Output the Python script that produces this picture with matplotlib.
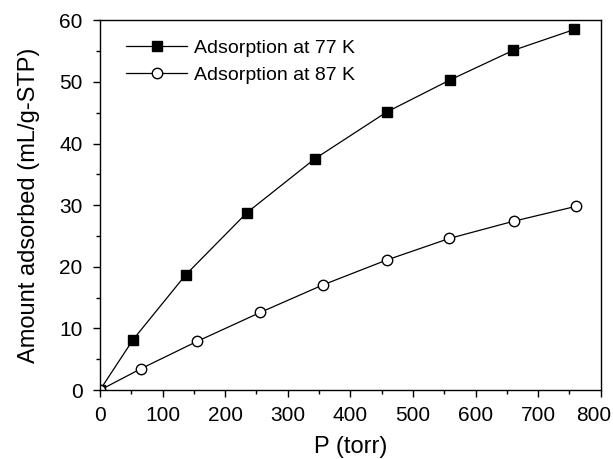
import matplotlib
matplotlib.use("Agg")
import matplotlib.pyplot as plt
from matplotlib.ticker import MultipleLocator
from matplotlib.transforms import ScaledTranslation

plt.rcParams['font.family'] = ['Liberation Sans', 'DejaVu Sans']

p77 = [0, 53, 137, 235, 343, 458, 559, 660, 758]
a77 = [0, 8.2, 18.7, 28.8, 37.5, 45.1, 50.3, 55.1, 58.5]
p87 = [0, 66, 155, 256, 357, 458, 558, 661, 760]
a87 = [0, 3.5, 7.9, 12.6, 17.1, 21.1, 24.6, 27.4, 29.8]
xticks = [0, 100, 200, 300, 400, 500, 600, 700, 800]
yticks = [0, 10, 20, 30, 40, 50, 60]

fig = plt.figure(figsize=(6.13, 4.59), dpi=100)
ax = fig.add_axes([0.163, 0.150, 0.817, 0.806])

ax.plot(p77, a77, color='black', lw=0.9, marker='s', ms=6.5, mfc='black', mec='black',
        label='Adsorption at 77 K')
ax.plot(p87, a87, color='black', lw=0.9, marker='o', ms=7.5, mfc='white', mec='black',
        label='Adsorption at 87 K')

ax.set_xlim(0, 800)
ax.set_ylim(0, 60)
ax.set_xticks(xticks)
ax.set_yticks(yticks)
ax.xaxis.set_minor_locator(MultipleLocator(50))
ax.yaxis.set_minor_locator(MultipleLocator(5))
ax.tick_params(which='both', direction='out', top=False, right=False, labelsize=15)
ax.tick_params(which='major', length=5, width=1)
ax.tick_params(axis='x', which='major', pad=6.5)
ax.tick_params(axis='y', which='major', pad=7.5)
ax.tick_params(which='minor', length=3, width=1)
for s in ax.spines.values():
    s.set_linewidth(1)

ax.set_xlabel('P (torr)', fontsize=17, labelpad=8)
ax.set_ylabel('Amount adsorbed (mL/g-STP)', fontsize=17, labelpad=14)

ax.legend(loc='upper left', bbox_to_anchor=(0.018, 0.995), frameon=False, fontsize=14,
          handlelength=3.1, borderaxespad=0.5, borderpad=0.4, handletextpad=0.4,
          labelspacing=0.45)

fig.canvas.draw()
for lbl in ax.get_xticklabels():
    if lbl.get_text() == '800':
        lbl.set_transform(lbl.get_transform() + ScaledTranslation(-7 / 100, 0, fig.dpi_scale_trans))

fig.savefig('out.png', dpi=100)
